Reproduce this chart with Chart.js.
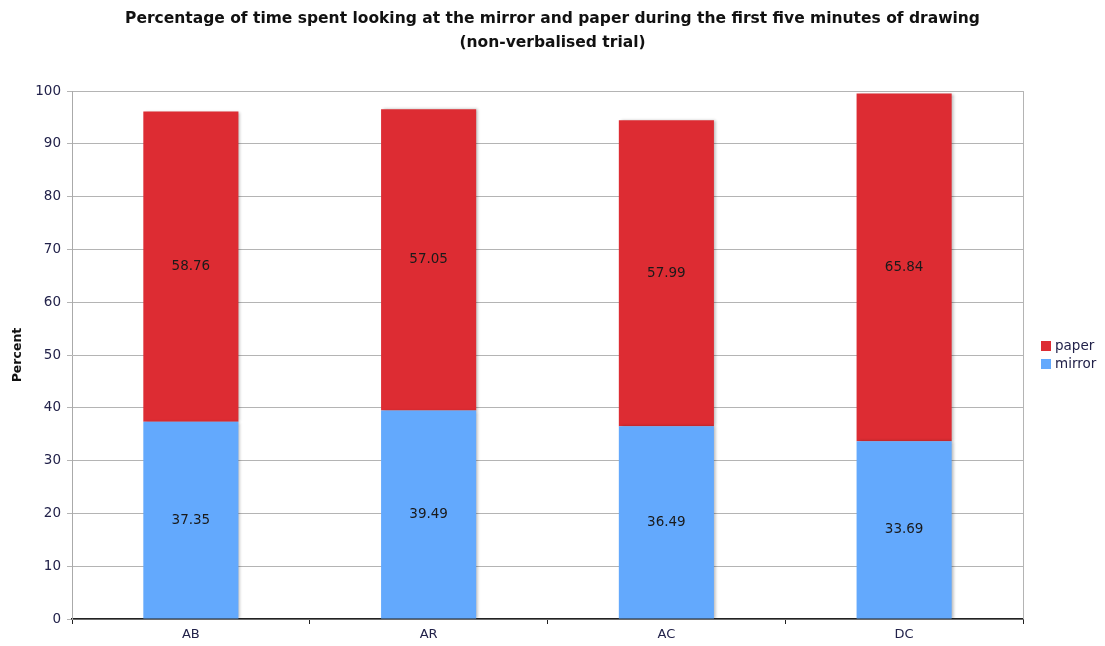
<!DOCTYPE html>
<html>
<head>
<meta charset="utf-8">
<script src="https://cdn.jsdelivr.net/npm/chart.js@4/dist/chart.umd.min.js"></script>
<style>
  html, body { margin: 0; padding: 0; background: #fff; }
  #wrap { width: 1105px; height: 646px; position: relative; }
</style>
</head>
<body>
<div id="wrap"><canvas id="c" width="1105" height="646"></canvas></div>
<script>
// Participants / conditions
const categories = ['AB', 'AR', 'AC', 'DC'];
// Percentage of time looking at the mirror
const mirrorValues = [37.35, 39.49, 36.49, 33.69];
// Percentage of time looking at the paper
const paperValues = [58.76, 57.05, 57.99, 65.84];
const titleLines = [
  'Percentage of time spent looking at the mirror and paper during the first five minutes of drawing',
  '(non-verbalised trial)'
];
const yTicks = [0, 10, 20, 30, 40, 50, 60, 70, 80, 90, 100];

const RED = '#dd2c33';
const BLUE = '#63a9fd';
const TICK_COLOR = '#22224a';
const FONT = "'DejaVu Sans', Verdana, sans-serif";

// soft drop shadow under the bars
const barShadow = {
  id: 'barShadow',
  beforeDatasetDraw(chart) {
    const ctx = chart.ctx;
    ctx.save();
    ctx.shadowColor = 'rgba(0,0,0,0.28)';
    ctx.shadowBlur = 3;
    ctx.shadowOffsetX = 2;
    ctx.shadowOffsetY = 0;
  },
  afterDatasetDraw(chart) {
    chart.ctx.restore();
  }
};

// value labels centred in each segment
const segmentLabels = {
  id: 'segmentLabels',
  afterDatasetsDraw(chart) {
    const ctx = chart.ctx;
    ctx.save();
    ctx.font = '13.5px ' + FONT;
    ctx.fillStyle = '#1a1a1a';
    ctx.textAlign = 'center';
    ctx.textBaseline = 'middle';
    chart.data.datasets.forEach((ds, i) => {
      const meta = chart.getDatasetMeta(i);
      meta.data.forEach((bar, j) => {
        const mid = (bar.y + bar.base) / 2;
        ctx.fillText(ds.data[j].toFixed(2), bar.x, mid);
      });
    });
    ctx.restore();
  }
};

// legend at the right of the plot, paper above mirror
const sideLegend = {
  id: 'sideLegend',
  afterDraw(chart) {
    const ctx = chart.ctx;
    const x = chart.chartArea.right + 18;
    const y0 = 346;
    const items = chart.data.datasets.slice().reverse();
    ctx.save();
    ctx.font = '13.5px ' + FONT;
    ctx.textBaseline = 'middle';
    ctx.textAlign = 'left';
    items.forEach((ds, k) => {
      const y = y0 + k * 18;
      ctx.fillStyle = ds.backgroundColor;
      ctx.fillRect(x, y - 5, 10, 10);
      ctx.fillStyle = TICK_COLOR;
      ctx.fillText(ds.label, x + 14, y);
    });
    ctx.restore();
  }
};

// plot-area frame on the right side
const rightBorder = {
  id: 'rightBorder',
  afterDraw(chart) {
    const { ctx, chartArea } = chart;
    ctx.save();
    ctx.strokeStyle = '#b4b4b4';
    ctx.lineWidth = 1;
    ctx.beginPath();
    ctx.moveTo(Math.round(chartArea.right) + 0.5, chartArea.top);
    ctx.lineTo(Math.round(chartArea.right) + 0.5, chartArea.bottom);
    ctx.stroke();
    ctx.restore();
  }
};

new Chart(document.getElementById('c'), {
  type: 'bar',
  data: {
    labels: categories,
    datasets: [
      { label: 'mirror', data: mirrorValues, backgroundColor: BLUE, borderWidth: 0 },
      { label: 'paper', data: paperValues, backgroundColor: RED, borderWidth: 0 }
    ]
  },
  options: {
    responsive: false,
    animation: false,
    devicePixelRatio: 1,
    datasets: { bar: { barPercentage: 0.8, categoryPercentage: 0.5 } },
    plugins: {
      legend: { display: false },
      tooltip: { enabled: false },
      title: {
        display: true,
        text: titleLines,
        color: '#111',
        font: { family: FONT, size: 15.5, weight: 'bold', lineHeight: 1.55 },
        padding: { top: 7, bottom: 36 }
      }
    },
    scales: {
      x: {
        stacked: true,
        offset: true,
        border: { display: true, color: '#222', width: 1.5 },
        grid: { display: true, offset: true, drawOnChartArea: false, drawTicks: true, tickLength: 5, color: '#222' },
        ticks: { color: TICK_COLOR, font: { family: FONT, size: 13 }, padding: 3 },
        afterFit(scale) { scale.height = 27; }
      },
      y: {
        stacked: true,
        min: 0,
        max: 100,
        afterBuildTicks(scale) { scale.ticks = yTicks.map(v => ({ value: v })); },
        border: { display: true, color: '#aaa', width: 1 },
        grid: { color: '#b4b4b4', lineWidth: 1, tickLength: 5 },
        ticks: { color: TICK_COLOR, font: { family: FONT, size: 13.5 }, padding: 6 },
        title: {
          display: true,
          text: 'Percent',
          color: '#111',
          font: { family: FONT, size: 12.5, weight: 'bold' },
          padding: { top: 10, bottom: 4 }
        },
        afterFit(scale) { scale.width = 72; }
      },
      // empty right-hand gutter that holds the legend
      legendGutter: {
        type: 'linear',
        position: 'right',
        display: true,
        min: 0,
        max: 100,
        grid: { display: false, drawOnChartArea: false },
        border: { display: false },
        ticks: { display: false },
        afterFit(scale) { scale.width = 82; }
      }
    }
  },
  plugins: [barShadow, segmentLabels, sideLegend, rightBorder]
});
</script>
</body>
</html>
